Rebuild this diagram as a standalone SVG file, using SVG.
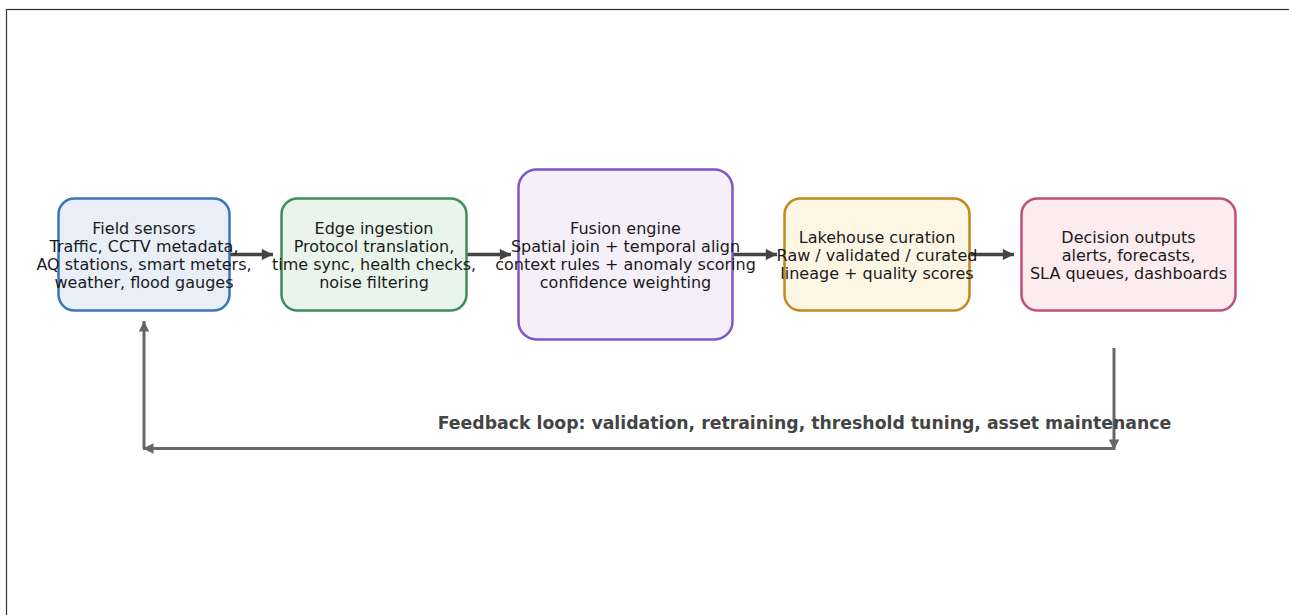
<svg xmlns="http://www.w3.org/2000/svg" width="1289" height="615" viewBox="0 0 1289 615">
<style>
.t{font-family:"DejaVu Sans",sans-serif;font-size:16px;fill:#1a1a1a;text-anchor:middle}
.box{stroke-width:2.5}
.flow{stroke:#444;stroke-width:3.5;fill:none}
.fb{stroke:#666;stroke-width:3;fill:none}
.fbt{font-family:"DejaVu Sans",sans-serif;font-size:17.3px;font-weight:bold;fill:#444;text-anchor:middle}
</style>
<defs>
<marker id="ah" viewBox="0 0 10 10" refX="10" refY="5" markerWidth="3.4" markerHeight="3.2" orient="auto" markerUnits="strokeWidth"><path d="M0,0 L10,5 L0,10 z" fill="#444"/></marker>
<marker id="ag" viewBox="0 0 10 10" refX="10" refY="5" markerWidth="3.8" markerHeight="3.5" orient="auto" markerUnits="strokeWidth"><path d="M0,0 L10,5 L0,10 z" fill="#666"/></marker>
</defs>
<rect x="6.5" y="9.5" width="1300" height="620" fill="#fff" stroke="#333" stroke-width="1.2"/>
<g id="connectors">
<line class="flow" x1="230" y1="254.5" x2="273" y2="254.5" marker-end="url(#ah)"/>
<line class="flow" x1="467" y1="254.5" x2="511" y2="254.5" marker-end="url(#ah)"/>
<line class="flow" x1="733" y1="254.5" x2="777" y2="254.5" marker-end="url(#ah)"/>
<line class="flow" x1="970" y1="254.5" x2="1014" y2="254.5" marker-end="url(#ah)"/>
<line class="fb" x1="1114" y1="348" x2="1114" y2="450" marker-end="url(#ag)"/>
<line class="fb" x1="1114" y1="448.5" x2="143" y2="448.5" marker-end="url(#ag)"/>
<line class="fb" x1="144" y1="448.5" x2="144" y2="321" marker-end="url(#ag)"/>
<text class="fbt" x="804.5" y="429">Feedback loop: validation, retraining, threshold tuning, asset maintenance</text>
</g>
<g id="field-sensors">
<rect class="box" x="58.5" y="198.5" width="171" height="112" rx="16" fill="#e8eff9" stroke="#3a75b8"/>
<text class="t" x="144" y="234">Field sensors</text>
<text class="t" x="144" y="252">Traffic, CCTV metadata,</text>
<text class="t" x="144" y="270">AQ stations, smart meters,</text>
<text class="t" x="144" y="288">weather, flood gauges</text>
</g>
<g id="edge-ingestion">
<rect class="box" x="281.5" y="198.5" width="185" height="112" rx="16" fill="#e9f5ec" stroke="#3d8c5c"/>
<text class="t" x="374" y="234">Edge ingestion</text>
<text class="t" x="374" y="252">Protocol translation,</text>
<text class="t" x="374" y="270">time sync, health checks,</text>
<text class="t" x="374" y="288">noise filtering</text>
</g>
<g id="fusion-engine">
<rect class="box" x="518.5" y="169.5" width="214" height="170" rx="18" fill="#f4eff9" stroke="#7e57c2"/>
<text class="t" x="625.5" y="234">Fusion engine</text>
<text class="t" x="625.5" y="252">Spatial join + temporal align</text>
<text class="t" x="625.5" y="270">context rules + anomaly scoring</text>
<text class="t" x="625.5" y="288">confidence weighting</text>
</g>
<g id="lakehouse-curation">
<rect class="box" x="784.5" y="198.5" width="185" height="112" rx="16" fill="#fef6e5" stroke="#c08a1f"/>
<text class="t" x="877" y="243">Lakehouse curation</text>
<text class="t" x="877" y="261">Raw / validated / curated</text>
<text class="t" x="877" y="279">lineage + quality scores</text>
</g>
<g id="decision-outputs">
<rect class="box" x="1021.5" y="198.5" width="214" height="112" rx="16" fill="#fcebef" stroke="#c0507a"/>
<text class="t" x="1128.5" y="243">Decision outputs</text>
<text class="t" x="1128.5" y="261">alerts, forecasts,</text>
<text class="t" x="1128.5" y="279">SLA queues, dashboards</text>
</g>
</svg>
